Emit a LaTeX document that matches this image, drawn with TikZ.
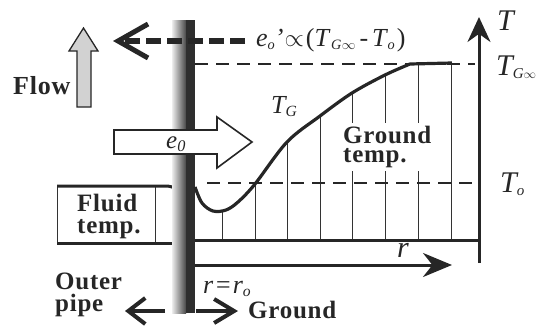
\documentclass[tikz,border=0pt]{standalone}
\usepackage{fontspec}
\setmainfont{Liberation Serif}
\newfontfamily\spacedbf[LetterSpace=3]{Liberation Serif}
\usetikzlibrary{arrows.meta}
\newcommand\lowsub[2][0.55]{\raisebox{-0.12em}{\scalebox{#1}{#2}}}
\begin{document}
\begin{tikzpicture}[x=1pt,y=-1pt,
  word/.style={font=\spacedbf\bfseries\fontsize{25}{22}\selectfont, inner sep=0pt, align=left, text=black!85},
  sym/.style={inner sep=0pt, text=black!85},
  hatch/.style={draw=black!80, line width=0.9pt},
  heavy/.style={draw=black!85, line width=3pt},
  guide/.style={draw=black!85, line width=1.4pt, dash pattern=on 13pt off 8pt},
  axis/.style={draw=black!85, fill=black!80, line width=3pt},
  barb/.style={draw=black!85, line width=4pt},
]
\useasboundingbox (0,0) rectangle (560,330);

% hatch lines under ground temperature curve
\foreach \x/\y in {222/211, 255/184, 287/142, 320/116, 352/93, 385/75, 418/63, 451/63}
  \draw[hatch] (\x,\y) -- (\x,240);

\node[word, fill=white, inner sep=3pt, anchor=north west,
      font=\spacedbf\bfseries\fontsize{25}{19}\selectfont] (gtemp) at (340,123) {Ground\\temp.};

% dashed guides
\draw[guide] (195,64) -- (475,64);
\draw[guide] (207,183) -- (475,183);

% baseline of ground region
\draw[heavy] (195,240) -- (479,240);

% fluid temperature box
\draw[hatch] (57,186) -- (57,243);
\draw[hatch] (155,186) -- (155,243);
\draw[heavy] (57,243) -- (174,243);
\draw[heavy] (57,186) -- (165,186) .. controls (170,186) and (172,187) .. (175,188);
\node[word, anchor=north west] (fluid) at (77,194) {Fluid\\temp.};

% pipe wall
\shade[left color=gray!15, right color=black!72] (172,20) rectangle (186,313);
\fill[black!82] (186,20) rectangle (195,313);

% temperature curve
\draw[black!85, line width=3.2pt, line join=round]
  plot[smooth, tension=0.55] coordinates {(195,187) (202,203) (213,211) (226,210) (238,202) (255,184) (287,142) (320,116) (352,93) (385,75) (410,64)} -- (452,63);

\node[sym, anchor=base west, font=\itshape\fontsize{26}{26}\selectfont] (tg) at (271,113) {T\lowsub[0.6]{G}};

% axes
\coordinate (Tbot) at (479,263);
\coordinate (Ttop) at (479,17);
\draw[axis, -{Stealth[length=25pt, width=23pt]}] (Tbot) -- (Ttop);
\coordinate (rbeg) at (195,265);
\coordinate (rend) at (452,265);
\draw[axis, -{Stealth[length=29pt, width=24pt]}] (rbeg) -- (rend);

\node[sym, anchor=base west, font=\itshape\fontsize{30}{30}\selectfont] (Tlab) at (497,30) {T};
\node[sym, anchor=base west, font=\itshape\fontsize{30}{30}\selectfont] (Tginf) at (496,75) {T\lowsub[0.5]{G$\infty$}};
\node[sym, anchor=base west, font=\itshape\fontsize{30}{30}\selectfont] (To) at (500,192) {T\lowsub[0.5]{o}};
\node[sym, anchor=base west, font=\itshape\fontsize{30}{30}\selectfont] (rlab) at (397,257) {r};
\node[sym, anchor=base west, font=\itshape\fontsize{26}{26}\selectfont] (rro) at (203,293) {r\kern1pt=\kern1pt r\lowsub[0.6]{o}};

% flow arrow
\draw[black!85, fill=gray!35, line width=1.3pt]
  (77,107) -- (77,51) -- (69,51) -- (83.5,28) -- (98,51) -- (91,51) -- (91,107) -- cycle;
\node[word, anchor=base west, font=\spacedbf\bfseries\fontsize{26}{26}\selectfont] (flow) at (13,94) {Flow};

% heat flux arrow e0
\draw[black!85, fill=white, line width=1.6pt, line join=miter]
  (114,130) -- (217,130) -- (217,117) -- (252,142) -- (217,168) -- (217,154) -- (114,154) -- cycle;
\node[sym, anchor=base west, font=\itshape\fontsize{25}{25}\selectfont] (e0) at (166,148) {e\lowsub[0.65]{0}};

% top dashed arrow with proportionality label
\node[sym, anchor=base west, font=\itshape\fontsize{26}{26}\selectfont] (form) at (256,46)
  {e\lowsub{o}\kern0pt'\kern1pt$\propto$\kern2pt\upshape(\itshape T\kern2pt\lowsub{G\kern1pt$\infty$}\kern4pt\upshape-\kern4pt\itshape T\kern1pt\lowsub{o}\kern2pt\upshape)};
\coordinate (dtip) at (113,41);
\draw[draw=black!85, line width=6pt, dash pattern=on 15pt off 6pt, shorten <=11pt,
      -{Straight Barb[length=30pt, width=34pt, line width=5pt]}] (form.west |- dtip) -- (dtip);

% bottom direction arrows
\node[word, anchor=north west] (outer) at (55,273) {Outer\\pipe};
\coordinate (opfrom) at (165,311);
\coordinate (optip) at (125,311);
\draw[barb, -{Straight Barb[length=17pt, width=26pt]}] (opfrom) -- (optip);
\coordinate (grfrom) at (196,311);
\coordinate (grtip) at (238,311);
\draw[barb, -{Straight Barb[length=20pt, width=24pt]}] (grfrom) -- (grtip);
\node[word, anchor=base west] (ground) at (248,318) {Ground};
\end{tikzpicture}
\end{document}
